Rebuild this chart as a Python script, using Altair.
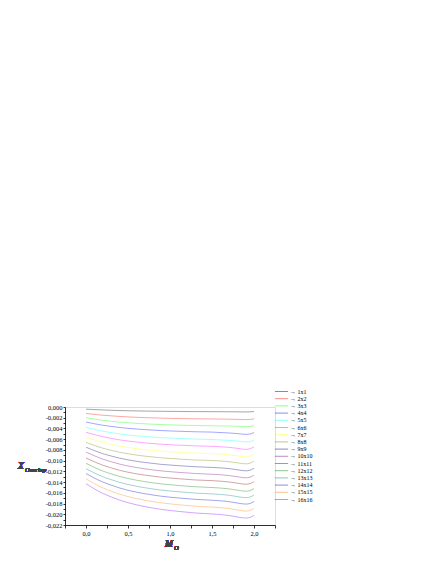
import altair as alt
import pandas as pd

x_vals = [0, 0.1, 0.2, 0.3, 0.4, 0.5, 0.7, 0.9, 1.1, 1.3, 1.5, 1.7, 1.8, 1.9, 1.95, 2.0]

series_names = ["1x1", "2x2", "3x3", "4x4", "5x5", "6x6", "7x7", "8x8",
                "9x9", "10x10", "11x11", "12x12", "13x13", "14x14", "15x15", "16x16"]

s1 = [-0.00040, -0.00048, -0.00055, -0.00061, -0.00066, -0.00070, -0.00076, -0.00080, -0.00083, -0.00086, -0.00087, -0.00089, -0.00090, -0.00093, -0.00090, -0.00085]
s2 = [-0.00120, -0.00138, -0.00153, -0.00165, -0.00176, -0.00185, -0.00198, -0.00208, -0.00215, -0.00220, -0.00223, -0.00227, -0.00230, -0.00236, -0.00232, -0.00222]
s3 = [-0.00200, -0.00226, -0.00248, -0.00266, -0.00282, -0.00294, -0.00314, -0.00328, -0.00338, -0.00346, -0.00350, -0.00355, -0.00360, -0.00368, -0.00362, -0.00348]
s4 = [-0.00280, -0.00312, -0.00340, -0.00362, -0.00382, -0.00398, -0.00422, -0.00440, -0.00452, -0.00462, -0.00468, -0.00484, -0.00495, -0.00510, -0.00505, -0.00475]
s5 = [-0.00380, -0.00418, -0.00452, -0.00478, -0.00502, -0.00522, -0.00550, -0.00572, -0.00586, -0.00598, -0.00606, -0.00623, -0.00635, -0.00650, -0.00645, -0.00615]
s6 = [-0.00470, -0.00515, -0.00554, -0.00585, -0.00613, -0.00635, -0.00669, -0.00694, -0.00711, -0.00725, -0.00733, -0.00752, -0.00770, -0.00790, -0.00780, -0.00740]
s7 = [-0.00560, -0.00613, -0.00659, -0.00695, -0.00728, -0.00755, -0.00794, -0.00824, -0.00844, -0.00860, -0.00870, -0.00890, -0.00910, -0.00930, -0.00920, -0.00880]
s8 = [-0.00660, -0.00718, -0.00768, -0.00808, -0.00844, -0.00872, -0.00916, -0.00948, -0.00970, -0.00988, -0.00998, -0.01019, -0.01040, -0.01060, -0.01050, -0.01010]
s9 = [-0.00750, -0.00814, -0.00870, -0.00914, -0.00954, -0.00986, -0.01034, -0.01070, -0.01094, -0.01114, -0.01126, -0.01148, -0.01170, -0.01190, -0.01180, -0.01140]
s10 = [-0.00840, -0.00910, -0.00972, -0.01020, -0.01064, -0.01100, -0.01152, -0.01192, -0.01218, -0.01240, -0.01254, -0.01277, -0.01300, -0.01320, -0.01310, -0.01270]
s11 = [-0.00950, -0.01022, -0.01085, -0.01135, -0.01180, -0.01216, -0.01270, -0.01310, -0.01337, -0.01360, -0.01373, -0.01397, -0.01420, -0.01440, -0.01430, -0.01390]
s12 = [-0.01050, -0.01127, -0.01194, -0.01247, -0.01295, -0.01333, -0.01391, -0.01434, -0.01463, -0.01487, -0.01501, -0.01526, -0.01550, -0.01570, -0.01560, -0.01520]
s13 = [-0.01150, -0.01230, -0.01300, -0.01355, -0.01405, -0.01445, -0.01505, -0.01550, -0.01580, -0.01605, -0.01620, -0.01645, -0.01670, -0.01690, -0.01680, -0.01640]
s14 = [-0.01240, -0.01325, -0.01399, -0.01457, -0.01510, -0.01553, -0.01616, -0.01664, -0.01696, -0.01722, -0.01738, -0.01764, -0.01790, -0.01810, -0.01800, -0.01760]
s15 = [-0.01340, -0.01430, -0.01508, -0.01570, -0.01626, -0.01670, -0.01738, -0.01788, -0.01822, -0.01850, -0.01866, -0.01893, -0.01920, -0.01940, -0.01930, -0.01890]
s16 = [-0.01430, -0.01526, -0.01610, -0.01676, -0.01736, -0.01784, -0.01856, -0.01910, -0.01946, -0.01976, -0.01994, -0.02022, -0.02050, -0.02070, -0.02060, -0.02020]

all_series = [s1, s2, s3, s4, s5, s6, s7, s8, s9, s10, s11, s12, s13, s14, s15, s16]

line_colors = ["#000000", "#FF0000", "#00FF00", "#0000FF", "#00FFFF", "#FF00FF",
               "#FFFF00", "#808000", "#000080", "#800080", "#800000", "#008000",
               "#008080", "#0000C0", "#FF8000", "#8000FF"]

x_ticks = [-0.25, 0, 0.25, 0.5, 0.75, 1.0, 1.25, 1.5, 1.75, 2.0, 2.25]
y_ticks = [-i / 1000 for i in range(0, 23)]

labels = ["\u2192 " + n for n in series_names]
rows = []
for lab, vals in zip(labels, all_series):
    for xv, yv in zip(x_vals, vals):
        rows.append({"series": lab, "x": xv, "y": yv})
df = pd.DataFrame(rows)

FONT = "'Liberation Serif', 'Times New Roman', serif"

lines = alt.Chart(df).mark_line(strokeWidth=0.85, opacity=0.42, interpolate="monotone").encode(
    x=alt.X("x:Q",
            scale=alt.Scale(domain=[-0.25, 2.25], nice=False, zero=False),
            axis=alt.Axis(values=x_ticks, title=None, grid=False,
                          labelExpr="(abs(datum.value*2 - round(datum.value*2)) < 0.001 && datum.value >= 0 && datum.value <= 2.001) ? replace(format(datum.value, '.1f'), '.', ',') : ''",
                          labelFont=FONT, labelFontSize=6.5, labelColor="#000",
                          tickSize=3, tickColor="#000", domainColor="#000",
                          domainWidth=0.8, tickWidth=0.8, labelPadding=2,
                          labelOverlap=False, labelFlush=False)),
    y=alt.Y("y:Q",
            scale=alt.Scale(domain=[-0.022, 0.0], nice=False, zero=False),
            axis=alt.Axis(values=y_ticks, title=None, grid=False,
                          labelExpr="(round(datum.value*1000) % 2 == 0) ? replace(replace(format(datum.value, '.3f'), '.', ','), '\u2212', '-') : ''",
                          labelFont=FONT, labelFontSize=6.5, labelColor="#000",
                          tickSize=2, tickColor="#000", domainColor="#000",
                          domainWidth=0.8, tickWidth=0.8, labelPadding=1,
                          labelOverlap=False, labelFlush=False)),
    color=alt.Color("series:N",
                    scale=alt.Scale(domain=labels, range=line_colors),
                    legend=alt.Legend(title=None, orient="none", legendX=213, legendY=-19,
                                      symbolType="M-2.2,0H2.2", symbolSize=36,
                                      symbolStrokeWidth=1, symbolOpacity=0.45,
                                      labelFont=FONT, labelFontSize=6, labelColor="#000",
                                      labelOffset=5, rowPadding=0.2, padding=0,
                                      labelLimit=100)),
)

ytitle_main = alt.Chart(df).mark_text(text="X", font=FONT, fontSize=9.5, fontStyle="italic",
                                       fontWeight="normal", color="#444",
                                       align="left", baseline="alphabetic").encode(
    x=alt.value(-47), y=alt.value(62))
ytitle_sub = alt.Chart(df).mark_text(text="Overlap", font=FONT, fontSize=6.5, fontStyle="italic",
                                      fontWeight="normal", color="#444",
                                      align="left", baseline="alphabetic").encode(
    x=alt.value(-40), y=alt.value(65))
xtitle_main = alt.Chart(df).mark_text(text="M", font=FONT, fontSize=9.5, fontStyle="italic",
                                       fontWeight="normal", color="#444",
                                       align="left", baseline="alphabetic").encode(
    x=alt.value(100), y=alt.value(140))
xtitle_sub = alt.Chart(df).mark_text(text="O", font=FONT, fontSize=6.5, fontStyle="italic",
                                      fontWeight="normal", color="#444",
                                      align="left", baseline="alphabetic").encode(
    x=alt.value(109), y=alt.value(143))

chart = alt.layer(lines, ytitle_main, ytitle_sub, xtitle_main, xtitle_sub).properties(
    width=210, height=118,
    autosize=alt.AutoSizeParams(type="none"),
    padding={"left": 57, "top": 399, "right": 90, "bottom": 30},
).configure_view(stroke=None).configure(background="white")

chart.save("out.html", embed_options={"renderer": "svg", "actions": False})
